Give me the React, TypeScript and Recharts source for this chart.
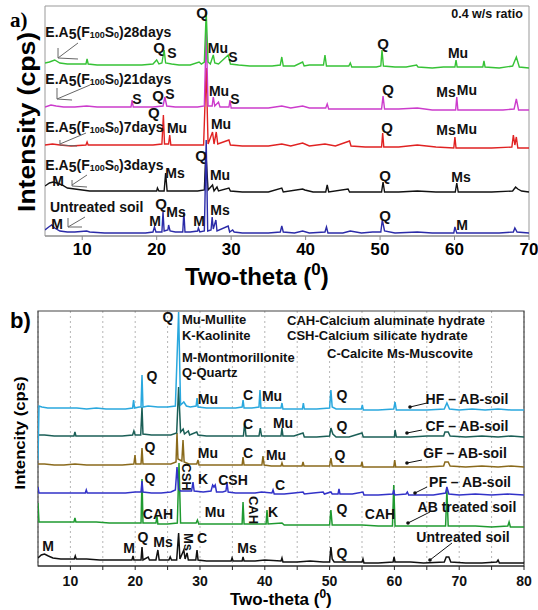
import { LineChart, Line, XAxis, YAxis, ReferenceDot, ReferenceLine, ReferenceArea, CartesianGrid } from 'recharts'

type Pt = [number, number]
type Note = [number, number, string]
type Seg = [number, number, number, number]

const FONT = 'Liberation Sans, Arial, Helvetica, sans-serif'

// ---------- panel a : 0.4 w/s ratio, curing days ----------
const ticksA = [10, 20, 30, 40, 50, 60, 70]
const namesA = ['28days', '21days', '7days', '3days', 'untreated']
const offsetsA = [168, 126, 88, 44, 3]
const colorsA = ['#36c236', '#cc3ccc', '#e02222', '#111111', '#2b2ba8']

const days28: Pt[] = [
  [5, 5], [5.6, 6], [6.3, 8], [7, 5], [8, 4], [9.5, 4], [10.5, 4], [10.65, 9], [10.8, 4], [12, 3], [13.5, 3],
  [15, 3], [16.5, 3], [18, 3], [19.5, 4], [20, 8], [20.3, 4], [20.7, 5], [21, 18], [21.2, 5], [22, 4], [23, 3],
  [24.5, 3], [25.7, 6], [26, 4], [26.4, 6], [26.65, 56], [26.9, 6], [27.2, 4], [27.6, 13], [27.8, 5], [28.3, 4],
  [29.6, 13], [29.9, 4], [31, 3], [32.5, 2], [34, 2], [35.5, 2], [36.6, 3], [36.8, 11], [37, 2], [38.5, 2],
  [39.6, 6], [39.8, 2], [40.5, 3], [42.4, 3], [42.6, 13], [42.8, 2], [44, 2], [45.8, 2], [46, 5], [46.2, 1],
  [48, 1], [49.5, 1], [50.1, 2], [50.26, 18], [50.45, 2], [52, 1], [53.5, 1], [54.9, 3], [55.1, 1], [57, 0],
  [58.5, 1], [60.05, 1], [60.2, 8], [60.35, 1], [61.5, 1], [63.8, 1], [63.95, 7], [64.1, 1], [66, 0], [67.8, 2],
  [68.3, 11], [68.7, 1], [70, 0],
]
const days21: Pt[] = [
  [5, 3], [5.8, 5], [6.5, 4], [7.5, 3], [9, 3], [10.6, 4], [12, 3], [14, 3], [15.5, 3], [16.55, 3], [16.7, 10],
  [16.85, 3], [18, 3], [19.5, 3], [20.85, 4], [21.1, 13], [21.35, 4], [22.5, 3], [24, 3], [25.5, 3], [26.4, 4],
  [26.65, 80], [26.9, 4], [27.45, 4], [27.6, 13], [27.8, 4], [28.3, 8], [28.5, 3], [29.7, 3], [29.85, 10],
  [30, 2], [31.5, 2], [33, 2], [35, 2], [36.8, 4], [38, 2], [39.6, 4], [40.5, 2], [42.7, 2], [42.9, 6], [43.1, 1],
  [45, 1], [47, 1], [49, 1], [50.2, 1], [50.4, 14], [50.6, 1], [52.5, 1], [55, 2], [57, 0], [59, 0], [60.15, 0],
  [60.3, 13], [60.45, 0], [62.5, 0], [64.5, 0], [66.5, 0], [68, 1], [68.3, 11], [68.6, 0], [70, 0],
]
const days7: Pt[] = [
  [5, 3], [6, 4], [7, 3], [8.5, 2], [10.5, 3], [10.65, 6], [10.8, 3], [12.5, 3], [14, 3], [16, 3], [18, 3],
  [19.5, 3], [20.7, 4], [20.9, 33], [21.05, 4], [21.6, 4], [21.75, 13], [21.9, 3], [23, 3], [24.5, 3], [26.3, 3],
  [26.65, 80], [26.9, 4], [27.5, 16], [27.7, 4], [28, 16], [28.2, 4], [29.7, 8], [29.9, 3], [31.5, 2], [33, 2],
  [35, 2], [36.8, 4], [38, 2], [39.6, 5], [40.5, 2], [42.6, 4], [44, 2], [45.9, 7], [46.1, 2], [48, 1], [50.2, 1],
  [50.35, 15], [50.5, 1], [52.5, 1], [55, 3], [57.5, 1], [59.9, 0], [60.05, 11], [60.2, 0], [62.5, 0], [65, 0],
  [67.7, 1], [67.9, 13], [68.1, 3], [68.3, 11], [68.5, 0], [70, 0],
]
const days3: Pt[] = [
  [5, 6], [5.6, 9], [6.1, 10], [6.6, 9], [7.3, 7], [8, 4], [9, 3], [10, 2], [11, 1], [13, 1], [15, 1], [17, 1],
  [19, 1], [20, 1], [20.1, 4], [20.3, 1], [21, 1], [21.2, 19], [21.4, 1], [22.5, 1], [24, 1], [25.5, 1],
  [26.4, 2], [26.6, 40], [26.9, 2], [27.5, 7], [27.7, 1], [28.1, 5], [28.3, 1], [29.7, 4], [29.9, 1], [31.5, 0],
  [33, 0], [35, 0], [36.8, 4], [37, 0], [39.6, 3], [39.9, 2], [41, 0], [42.7, 0], [42.9, 7], [43.1, 0], [45.7, 3],
  [45.9, 0], [48, 0], [50.2, 0], [50.4, 10], [50.6, 0], [52.5, 0], [55, 1], [57.5, 0], [60.1, 0], [60.3, 9],
  [60.5, 0], [62.5, 0], [65, 0], [67.8, 1], [68.2, 5], [68.5, 3], [69, 1], [70, 0],
]
const untreatedA: Pt[] = [
  [5, 3], [5.5, 6], [5.9, 8], [6.3, 5], [7, 2], [8, 1], [9, 1], [10.6, 2], [11, 1], [13, 0], [15, 0], [17, 0],
  [18.5, 0], [19.5, 1], [19.7, 6], [19.9, 1], [20.7, 1], [20.85, 21], [21, 2], [21.5, 3], [21.6, 8], [21.8, 2],
  [22.5, 1], [23.5, 1], [23.65, 21], [23.8, 1], [24.5, 1], [25.5, 2], [25.6, 5], [25.8, 1], [26.4, 2],
  [26.65, 93], [26.85, 2], [27.3, 3], [27.45, 16], [27.6, 4], [27.95, 13], [28.1, 2], [29.6, 7], [29.8, 1],
  [30.2, 3], [30.4, 1], [31.5, 0], [33, 0], [35, 0], [36.6, 1], [36.8, 7], [37, 1], [38.5, 0], [39.6, 2],
  [40.5, 0], [42.6, 1], [42.8, 6], [43, 0], [45, 0], [46, 2], [47.5, 0], [49, 1], [50.1, 1], [50.3, 13],
  [50.6, 2], [52, 0], [55, 1], [57, 0], [59.9, 0], [60.05, 6], [60.3, 0], [62, 0], [64, 0], [66, 0], [67.9, 1],
  [68.1, 5], [68.4, 1], [70, 0],
]
const seriesA = [days28, days21, days7, days3, untreatedA]
const drawOrderA = [3, 4, 2, 1, 0]

const peakNotesA: Note[] = [
  [26.09, 224, 'Q'], [20.31, 189, 'Q'], [22.06, 183, 'S'], [28.23, 188, 'Mu'], [30.25, 179, 'S'],
  [50.39, 193, 'Q'], [60.47, 183, 'Mu'],
  [17.36, 137, 'S'], [20.18, 141, 'Q'], [21.79, 142, 'S'], [28.37, 145, 'Mu'], [30.52, 137, 'S'],
  [51.07, 147, 'Q'], [58.85, 144, 'Ms'], [61.67, 146, 'Mu'],
  [19.6, 124, 'Q'], [22.73, 108, 'Mu'], [28.64, 112, 'Mu'], [50.93, 109, 'Q'], [58.85, 106, 'Ms'], [61.67, 107, 'Mu'],
  [25.95, 81, 'Q'], [6.75, 55, 'M'], [22.46, 63, 'Ms'], [28.5, 61, 'Mu'], [50.66, 61, 'Q'], [60.87, 59, 'Ms'],
  [6.61, 12, 'M'], [20.58, 33, 'Q'], [22.6, 24, 'Ms'], [19.77, 15, 'M'], [25.68, 15, 'M'], [28.5, 26, 'Ms'],
  [50.66, 21, 'Q'], [61.0, 11, 'M'],
]
// sample labels: [x, y, days]
const sampleNotesA: Note[] = [[5.05, 204, '28days'], [5.05, 157, '21days'], [5.05, 109, '7days'], [5.05, 71, '3days']]
const leadersA: Seg[] = [
  [9.43, 193, 6.75, 178], [6.75, 188, 6.75, 178], [6.75, 178, 9.43, 177],
  [11.04, 151, 6.61, 137], [6.61, 148, 6.61, 137], [6.61, 137, 8.63, 136],
  [10.51, 103, 7.01, 92], [7.01, 96, 7.01, 91], [7.01, 91, 9.3, 90],
  [10.64, 61, 8.63, 51], [8.63, 56, 8.63, 50], [8.63, 50, 10.64, 49],
  [10.37, 19, 8.09, 9], [8.09, 18, 8.09, 9], [8.09, 9, 9.97, 9],
]

// ---------- panel b : AB soil with fibres ----------
const ticksB = [10, 15, 20, 25, 30, 35, 40, 45, 50, 55, 60, 65, 70, 75, 80]
const offsetsB = [156, 129, 99, 71, 39, 3]
const colorsB = ['#2aa8de', '#1b5f57', '#8a6a1c', '#3232c8', '#1f9a30', '#111111']

const hfSoil: Pt[] = [
  [5, -50], [5.15, 4], [5.6, 3], [6.5, 2], [8, 2], [9.5, 2], [11, 2], [12.5, 1], [14, 2], [15.5, 1], [17, 1],
  [18.5, 1], [19.6, 2], [19.75, 10], [19.9, 2], [20.6, 3], [20.9, 3], [21.05, 35], [21.2, 3], [22, 4], [23.5, 3],
  [25, 3], [26.2, 4], [26.7, 98], [27, 5], [27.5, 8], [27.9, 4], [28.5, 3], [29.4, 4], [29.55, 12], [29.7, 3],
  [31, 2], [32.5, 2], [34, 2], [35.5, 2], [36.5, 3], [36.65, 10], [36.8, 2], [38, 2], [39.1, 3], [39.26, 20],
  [39.4, 2], [40.5, 2], [42.5, 2], [42.65, 7], [42.8, 1], [44.5, 1], [45.8, 1], [45.95, 7], [46.1, 1], [48, 1],
  [50, 2], [50.2, 20], [50.4, 3], [51, 1], [53, 1], [54.9, 1], [55.05, 5], [55.2, 0], [57.5, 0], [59.9, 1],
  [60.1, 8], [60.3, 0], [62.5, 0], [65, 0], [67.7, 1], [68.1, 7], [68.5, 1], [70, 0], [72, 1], [74, 0], [76, 1],
  [78, 0], [80, 0],
]
const cfSoil: Pt[] = [
  [5, 2], [6, 2], [7.5, 1], [9, 1], [10.55, 1], [10.7, 5], [10.85, 1], [12.5, 1], [14, 1], [16, 1], [18, 1],
  [19.6, 2], [19.8, 6], [20, 2], [20.85, 2], [21.05, 30], [21.2, 3], [22.5, 2], [24, 2], [25.5, 2], [26.4, 4],
  [26.7, 50], [27, 5], [27.4, 8], [27.6, 3], [28.2, 6], [28.4, 2], [29.5, 5], [29.7, 2], [31, 1], [33, 1],
  [35, 1], [36.7, 1], [36.9, 14], [37.1, 1], [38.5, 1], [39.1, 1], [39.3, 9], [39.5, 1], [41, 1], [42.5, 1],
  [42.65, 9], [42.8, 1], [44.5, 1], [45.9, 4], [46.1, 0], [48, 0], [50, 1], [50.2, 9], [50.5, 3], [51, 0],
  [53, 0], [55, 4], [55.2, 0], [57.5, 0], [60, 0], [60.1, 7], [60.3, 0], [62.5, 0], [65, 1], [67.6, 1],
  [67.8, 5], [68.3, 5], [68.6, 1], [71, 0], [73.5, 1], [76, 0], [78, 1], [80, 0],
]
const gfSoil: Pt[] = [
  [5, 3], [6, 3], [7.5, 2], [9, 2], [10.7, 3], [12.5, 2], [14, 2], [16, 2], [18, 2], [19.8, 3], [19.97, 12],
  [20.1, 3], [20.9, 3], [21.05, 19], [21.2, 3], [22.5, 3], [24, 3], [25.5, 3], [26.3, 5], [26.45, 34], [26.6, 8],
  [27.2, 6], [27.38, 27], [27.55, 5], [28.3, 3], [29.5, 3], [29.69, 7], [29.85, 2], [31, 2], [33, 2], [35, 2],
  [36.5, 2], [36.64, 10], [36.8, 2], [38.5, 2], [39.55, 2], [39.72, 11], [39.9, 2], [41, 1], [42.5, 1],
  [42.65, 4], [42.8, 1], [44.5, 1], [45.75, 1], [45.9, 5], [46.05, 1], [48, 1], [50, 1], [50.2, 9], [50.4, 1],
  [52.5, 1], [54.85, 1], [55, 5], [55.15, 0], [57.5, 0], [59.9, 0], [60.05, 7], [60.2, 0], [62.5, 0], [65, 0],
  [67.6, 1], [67.8, 5], [68.3, 5], [68.6, 1], [71, 0], [73.5, 1], [76, 0], [78, 1], [80, 0],
]
const pfSoil: Pt[] = [
  [5, 8], [5.15, 2], [6, 2], [7.5, 2], [9, 2], [10.5, 2], [12.3, 2], [12.45, 5], [12.6, 2], [14.5, 2], [16.5, 2],
  [18.5, 2], [20, 3], [20.9, 3], [21.05, 14], [21.2, 3], [22.5, 2], [24, 2], [25.5, 3], [26.2, 5], [26.45, 28],
  [26.7, 6], [27, 4], [28.7, 4], [28.92, 13], [29.1, 4], [30.5, 3], [31.7, 4], [31.95, 10], [32.15, 8],
  [32.35, 10], [32.55, 3], [33.5, 3], [34, 4], [34.17, 12], [34.35, 3], [35.5, 2], [37, 2], [38.5, 2], [39.5, 3],
  [41.1, 2], [41.27, 5], [41.45, 1], [43, 1], [44.5, 2], [45.9, 3], [46.1, 1], [47.5, 2], [49, 3], [49.2, 1],
  [50.2, 3], [50.4, 1], [51.3, 1], [51.45, 6], [51.6, 1], [53.5, 1], [55.15, 3], [55.3, 0], [57.5, 0],
  [59.75, 1], [59.9, 5], [60.05, 0], [61.8, 1], [62, 3], [62.2, 0], [64, 0], [66, 0], [67.9, 2], [68.1, 8],
  [68.4, 1], [70, 0], [72.5, 1], [75, 0], [77.5, 1], [80, 0],
]
const abSoil: Pt[] = [
  [5, 24], [5.15, 5], [6.5, 5], [8, 5], [9.5, 5], [10.55, 5], [10.7, 9], [10.85, 5], [12.5, 5], [14, 5], [16, 4],
  [18, 4], [19.8, 4], [20.9, 4], [21.05, 48], [21.2, 4], [22.5, 4], [23.2, 4], [23.36, 11], [23.5, 3], [25, 3],
  [26.5, 4], [26.76, 64], [27, 4], [27.5, 4], [29.4, 4], [29.6, 7], [29.8, 3], [31.5, 3], [33.5, 3], [35.5, 3],
  [36.5, 3], [36.64, 25], [36.8, 3], [38, 3], [40.2, 3], [40.34, 17], [40.5, 3], [42.65, 4], [43, 2], [45, 2],
  [46, 2], [48, 2], [50, 2], [50.2, 17], [50.4, 2], [52.5, 2], [55, 2], [57.5, 1], [59.7, 1], [59.9, 42],
  [60.1, 1], [62.5, 1], [65, 1], [67.9, 1], [68.1, 37], [68.3, 1], [70, 1], [72.5, 1], [75, 0], [77.5, 1],
  [77.7, 5], [77.9, 0], [80, 0],
]
const untreatedB: Pt[] = [
  [5, 5], [5.5, 8], [6, 9], [6.6, 7], [7.3, 5], [8.5, 4], [10.6, 4], [10.75, 7], [10.9, 4], [12.5, 4], [14.5, 3],
  [16.5, 3], [18.5, 3], [19.5, 3], [19.66, 7], [19.8, 3], [20.9, 3], [21.05, 16], [21.2, 3], [22, 6], [22.2, 3],
  [23.2, 3], [23.5, 13], [23.7, 3], [24.5, 3], [25.2, 3], [25.4, 6], [25.6, 3], [26.4, 3], [26.7, 30], [26.9, 4],
  [27.5, 13], [27.7, 4], [28, 10], [28.2, 3], [29.35, 3], [29.54, 13], [29.7, 3], [31, 2], [33, 2], [34.8, 2],
  [34.95, 5], [35.1, 2], [36.5, 2], [36.64, 6], [36.8, 2], [38.5, 2], [40, 3], [42.5, 2], [42.65, 5], [42.8, 1],
  [45, 1], [47, 2], [49, 1], [50, 1], [50.2, 16], [50.4, 4], [50.7, 1], [53, 1], [55, 1], [55.15, 4], [55.3, 0],
  [57.5, 0], [59.8, 1], [59.95, 6], [60.1, 1], [62.5, 1], [64.5, 0], [67.7, 1], [68, 6], [68.4, 6], [68.7, 1],
  [71, 0], [73.5, 0], [75.8, 1], [76, 3], [76.2, 0], [78, 0], [80, 0],
]
const seriesB = [hfSoil, cfSoil, gfSoil, pfSoil, abSoil, untreatedB]
const drawOrderB = [5, 4, 3, 2, 1, 0]

const peakNotesB: Note[] = [
  [22.59, 190, 'Q'], [25.06, 249, 'Q'], [31.23, 167, 'Mu'], [37.41, 171, 'C'], [41.11, 170, 'Mu'], [51.91, 171, 'Q'],
  [37.41, 142, 'C'], [42.81, 143, 'Mu'], [51.91, 140, 'Q'],
  [22.28, 119, 'Q'], [31.23, 113, 'Mu'], [37.41, 113, 'C'], [41.73, 111, 'Mu'], [51.6, 111, 'Q'],
  [22.28, 88, 'Q'], [30.46, 87, 'K'], [35.09, 86, 'CSH'], [42.35, 81, 'C'],
  [23.52, 52, 'CAH'], [32.31, 54, 'Mu'], [41.27, 54, 'K'], [51.91, 57, 'Q'], [57.78, 52, 'CAH'],
  [6.54, 20, 'M'], [19.04, 18, 'M'], [21.2, 29, 'Q'], [24.29, 24, 'Ms'], [30.31, 28, 'C'], [37.25, 18, 'Ms'],
  [51.91, 13, 'Q'],
]
const verticalNotesB: Note[] = [[27.99, 89, 'CSH'], [38.33, 56, 'CAH'], [28.15, 24, 'Ms']]
const sampleNotesB: Note[] = [
  [71.2, 167, 'HF – AB-soil'], [71.2, 140, 'CF – AB-soil'], [70.9, 113, 'GF – AB-soil'],
  [71.67, 84, 'PF – AB-soil'], [71.2, 59, 'AB treated soil'], [70.59, 29, 'Untreated soil'],
]
const legendNotesB: Note[] = [
  [27.22, 247, 'Mu-Mullite'], [27.22, 231, 'K-Kaolinite'], [27.22, 209, 'M-Montmorillonite'], [27.22, 194, 'Q-Quartz'],
  [43.43, 246, 'CAH-Calcium aluminate hydrate'], [43.43, 231, 'CSH-Calcium silicate hydrate'],
  [49.6, 213, 'C-Calcite Ms-Muscovite'],
]
const leadersB: Seg[] = [
  [65.03, 163, 62.41, 159], [64.26, 136, 61.94, 133], [64.26, 106, 61.94, 103],
  [65.03, 79, 63.18, 73], [65.49, 54, 62.1, 43], [68.89, 23, 65.49, 6],
]

const toRows = (pts: Pt[], offset: number) => pts.map(([x, y]) => ({ x, y: y + offset }))

const textShape = (text: string, size: number, anchor = 'middle', rotate = false) => (p: any) => (
  <text
    x={p.cx}
    y={p.cy}
    textAnchor={anchor}
    dominantBaseline="central"
    fontSize={size}
    fontWeight="bold"
    fontFamily={FONT}
    fill="#111"
    transform={rotate ? `rotate(90 ${p.cx} ${p.cy})` : undefined}
  >
    {text}
  </text>
)

const sampleShape = (days: string) => (p: any) => (
  <text x={p.cx} y={p.cy} dominantBaseline="central" fontSize={14} fontWeight="bold" fontFamily={FONT} fill="#111">
    E.A<tspan dy={2}>5</tspan>
    <tspan dy={-2}>(F</tspan>
    <tspan fontSize={9} dy={3}>100</tspan>
    <tspan fontSize={14} dy={-3}>S</tspan>
    <tspan fontSize={9} dy={3}>0</tspan>
    <tspan fontSize={14} dy={-3}>){days}</tspan>
  </text>
)

function PanelA() {
  return (
    <LineChart width={538} height={262} margin={{ top: 6, right: 9, left: 45, bottom: 0 }}>
      <XAxis
        dataKey="x"
        type="number"
        domain={[5, 70]}
        ticks={ticksA}
        allowDataOverflow
        height={26}
        tickSize={4}
        tickMargin={3}
        axisLine={{ stroke: '#888' }}
        tickLine={{ stroke: '#888' }}
        tick={{ fontSize: 17, fontWeight: 'bold', fill: '#000', fontFamily: FONT }}
      />
      <YAxis hide type="number" domain={[0, 230]} allowDataOverflow />
      <ReferenceArea x1={5} x2={70} y1={0} y2={230} fill="none" stroke="#999" strokeWidth={1} />
      {drawOrderA.map((i) => (
        <Line
          key={namesA[i]}
          data={toRows(seriesA[i], offsetsA[i])}
          dataKey="y"
          stroke={colorsA[i]}
          strokeWidth={1.4}
          dot={false}
          isAnimationActive={false}
        />
      ))}
      {leadersA.map(([x1, y1, x2, y2], i) => (
        <ReferenceLine key={'la' + i} segment={[{ x: x1, y: y1 }, { x: x2, y: y2 }]} stroke="#666" strokeWidth={1} />
      ))}
      {peakNotesA.map(([x, y, t], i) => (
        <ReferenceDot key={'pa' + i} x={x} y={y} r={0} shape={textShape(t, t === 'Q' ? 15 : 14)} />
      ))}
      {sampleNotesA.map(([x, y, d], i) => (
        <ReferenceDot key={'sa' + i} x={x} y={y} r={0} shape={sampleShape(d)} />
      ))}
      <ReferenceDot x={5.67} y={29} r={0} shape={textShape('Untreated soil', 14, 'start')} />
      <ReferenceDot x={64.36} y={222} r={0} shape={textShape('0.4 w/s ratio', 12.5)} />
    </LineChart>
  )
}

function PanelB() {
  return (
    <LineChart width={538} height={300} margin={{ top: 11, right: 14, left: 38, bottom: 4 }}>
      <CartesianGrid horizontal={false} stroke="#b5b5b5" strokeDasharray="2 3" />
      <XAxis
        dataKey="x"
        type="number"
        domain={[5, 80]}
        ticks={ticksB}
        tickFormatter={(v: number) => (v % 10 === 0 ? String(v) : '')}
        allowDataOverflow
        height={30}
        tickSize={4}
        tickMargin={6}
        axisLine={{ stroke: '#222' }}
        tickLine={{ stroke: '#222' }}
        tick={{ fontSize: 14, fontWeight: 'bold', fill: '#111', fontFamily: FONT }}
      />
      <YAxis hide type="number" domain={[0, 255]} allowDataOverflow />
      <ReferenceArea x1={5} x2={80} y1={0} y2={255} fill="none" stroke="#444" strokeWidth={1.2} />
      {drawOrderB.map((i) => (
        <Line
          key={'b' + i}
          data={toRows(seriesB[i], offsetsB[i])}
          dataKey="y"
          stroke={colorsB[i]}
          strokeWidth={1.5}
          dot={false}
          isAnimationActive={false}
        />
      ))}
      {leadersB.map(([x1, y1, x2, y2], i) => (
        <ReferenceLine key={'lb' + i} segment={[{ x: x1, y: y1 }, { x: x2, y: y2 }]} stroke="#111" strokeWidth={1} />
      ))}
      {leadersB.map(([, , x2, y2], i) => (
        <ReferenceDot key={'ab' + i} x={x2} y={y2} r={1.8} fill="#111" stroke="none" />
      ))}
      {peakNotesB.map(([x, y, t], i) => (
        <ReferenceDot key={'pb' + i} x={x} y={y} r={0} shape={textShape(t, 14)} />
      ))}
      {verticalNotesB.map(([x, y, t], i) => (
        <ReferenceDot key={'vb' + i} x={x} y={y} r={0} shape={textShape(t, 13, 'middle', true)} />
      ))}
      {sampleNotesB.map(([x, y, t], i) => (
        <ReferenceDot key={'sb' + i} x={x} y={y} r={0} shape={textShape(t, 14)} />
      ))}
      {legendNotesB.map(([x, y, t], i) => (
        <ReferenceDot key={'gb' + i} x={x} y={y} r={0} shape={textShape(t, 13, 'start')} />
      ))}
    </LineChart>
  )
}

export default function App() {
  return (
    <div style={{ position: 'absolute', left: 0, top: 0, width: 538, height: 610, background: '#fff' }}>
      <div style={{ position: 'absolute', left: 0, top: 0 }}>
        <PanelA />
      </div>
      <div style={{ position: 'absolute', left: 0, top: 300 }}>
        <PanelB />
      </div>
      <svg width={538} height={610} style={{ position: 'absolute', left: 0, top: 0, pointerEvents: 'none' }}>
        <text x={10} y={27} fontSize={21} fontWeight="bold" fontFamily="Liberation Serif, Times New Roman, serif">
          a)
        </text>
        <text
          x={26}
          y={122}
          transform="rotate(-90 26 122)"
          textAnchor="middle"
          dominantBaseline="central"
          fontSize={24}
          fontWeight="bold"
          fontFamily={FONT}
          textLength={180}
          lengthAdjust="spacingAndGlyphs"
        >
          Intensity (cps)
        </text>
        <text x={185} y={285} fontSize={24} fontWeight="bold" fontFamily={FONT}>
          Two-theta (<tspan fontSize={17} dy={-10}>0</tspan>
          <tspan fontSize={24} dy={10}>)</tspan>
        </text>
        <text x={10} y={328} fontSize={22} fontWeight="bold" fontFamily={FONT}>
          b)
        </text>
        <text
          x={19}
          y={433}
          transform="rotate(-90 19 433)"
          textAnchor="middle"
          dominantBaseline="central"
          fontSize={15.5}
          fontWeight="bold"
          fontFamily={FONT}
          textLength={113}
          lengthAdjust="spacingAndGlyphs"
        >
          Intencity (cps)
        </text>
        <text x={230} y={605} fontSize={17} fontWeight="bold" fontFamily={FONT}>
          Two-theta (<tspan fontSize={12} dy={-7}>0</tspan>
          <tspan fontSize={17} dy={7}>)</tspan>
        </text>
      </svg>
    </div>
  )
}
